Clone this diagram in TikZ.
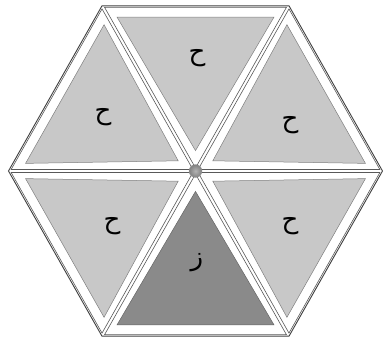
\documentclass[tikz,border=0pt]{standalone}
\usepackage{fontspec}
\newfontfamily\arabicfont[Script=Arabic]{DejaVu Sans}
\TeXXeTstate=1
\definecolor{facelight}{HTML}{C8C8C8}
\definecolor{facedark}{HTML}{8A8A8A}
\begin{document}
\begin{tikzpicture}[x=1pt,y=1pt,
  hexline/.style={draw=black!75, line width=0.9pt},
  sectorline/.style={draw=black!65, line width=0.6pt, fill=white},
  lightface/.style={fill=facelight, draw=black!50, line width=0.5pt},
  darkface/.style={fill=facedark, draw=black!60, line width=0.5pt},
  letter/.style={font=\arabicfont\fontsize{26}{26}\selectfont, text=black, inner sep=0pt},
  hub/.style={circle, inner sep=0pt, minimum size=13pt, shading=radial, inner color=gray!60, outer color=black!50, draw=black!40, line width=0.3pt}]
\useasboundingbox (0,0) rectangle (383,341);
\fill[white] (0,0) rectangle (383,341);
\begin{scope}[shift={(195.5,170)}, yscale=1.02]
  \foreach \k/\st in {0/lightface,1/lightface,2/lightface,3/darkface,4/lightface,5/lightface} {
    \begin{scope}[rotate=60*\k]
      \draw[sectorline] (0,3) -- (-90.9,160.4) -- (90.9,160.4) -- cycle;
      \draw[\st] (0,20) -- (-78.5,150.9) -- (78.5,150.9) -- cycle;
    \end{scope}
  }
  \draw[hexline] (0:187) -- (60:187) -- (120:187) -- (180:187) -- (240:187) -- (300:187) -- cycle;
  \node[hub] (hub) at (0,0) {};
\end{scope}
\node[letter] (t1) at (197,283) {\beginR ح\endR};
\node[letter] (t2) at (103,224) {\beginR ح\endR};
\node[letter] (t3) at (290,216) {\beginR ح\endR};
\node[letter] (t4) at (112,115) {\beginR ح\endR};
\node[letter] (t5) at (290,115) {\beginR ح\endR};
\node[letter] (t6) at (197,78) {\beginR ز\endR};
\end{tikzpicture}
\end{document}
